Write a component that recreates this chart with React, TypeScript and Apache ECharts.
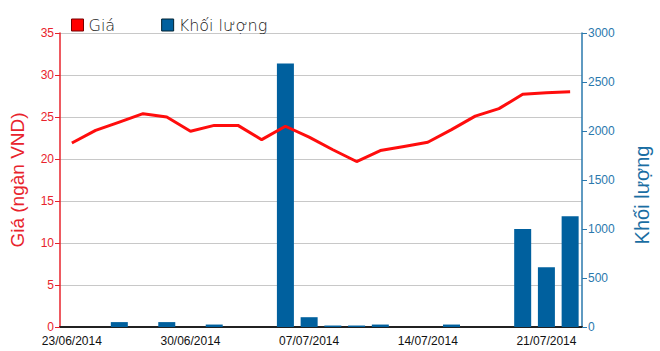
import React, { useEffect, useRef } from "react";
import * as echarts from "echarts";

const categories = [
  "23/06/2014", "24/06/2014", "25/06/2014", "26/06/2014", "27/06/2014",
  "30/06/2014", "01/07/2014", "02/07/2014", "03/07/2014", "04/07/2014",
  "07/07/2014", "08/07/2014", "09/07/2014", "10/07/2014", "11/07/2014",
  "14/07/2014", "15/07/2014", "16/07/2014", "17/07/2014", "18/07/2014",
  "21/07/2014", "22/07/2014",
];
const priceValues = [
  21.9, 23.4, 24.4, 25.4, 25.0,
  23.3, 24.0, 24.0, 22.3, 23.9,
  22.6, 21.1, 19.7, 21.0, 21.5,
  22.0, 23.5, 25.1, 26.0, 27.7,
  27.9, 28.0,
];
const volumeValues = [
  0, 0, 50, 0, 50,
  0, 25, 0, 0, 2690,
  100, 15, 15, 25, 0,
  0, 25, 0, 0, 1000,
  610, 1130,
];
const priceTicks = [0, 35, 5];
const volumeTicks = [0, 3000, 500];

export default function App() {
  const ref = useRef<HTMLDivElement>(null);
  useEffect(() => {
    const chart = echarts.init(ref.current!, null, { renderer: "svg" });
    const font = "Arial, 'Liberation Sans', sans-serif";
    chart.setOption({
      animation: false,
      textStyle: { fontFamily: font },
      legend: {
        left: 66,
        top: 12,
        itemWidth: 12,
        itemHeight: 12,
        itemGap: 46,
        icon: "rect",
        textStyle: { fontSize: 16, color: "#222", fontFamily: "'DejaVu Sans', sans-serif", fontWeight: 300 },
        data: [
          { name: "Giá", itemStyle: { color: "#ff0000", borderColor: "#700", borderWidth: 1 } },
          { name: "Khối lượng", itemStyle: { color: "#00609e", borderColor: "#023", borderWidth: 1 } },
        ],
      },
      grid: { left: 58, right: 73, top: 33, bottom: 24, containLabel: false },
      xAxis: [
        {
          type: "category",
          data: categories,
          boundaryGap: true,
          axisLine: { lineStyle: { color: "#555", width: 2 } },
          axisTick: { alignWithLabel: true, interval: 4, length: 6, lineStyle: { color: "#333" } },
          axisLabel: { interval: 4, color: "#111", fontSize: 12, margin: 8 },
          splitLine: { show: false },
        },
        {
          type: "category",
          data: categories,
          position: "top",
          axisLine: { lineStyle: { color: "#111", width: 1.5 } },
          axisTick: { show: false },
          axisLabel: { show: false },
        },
      ],
      yAxis: [
        {
          type: "value",
          min: priceTicks[0],
          max: priceTicks[1],
          interval: priceTicks[2],
          name: "Giá (ngàn VND)",
          nameLocation: "middle",
          nameGap: 33,
          nameTextStyle: { color: "#e8232c", fontSize: 19 },
          axisLine: { show: true, lineStyle: { color: "#e8232c", width: 1.5 } },
          axisTick: { show: true, length: 5, lineStyle: { color: "#e8232c" } },
          axisLabel: { color: "#e8232c", fontSize: 12, margin: 6, verticalAlign: "middle" },
          splitLine: { show: true, lineStyle: { color: "#c8c8c8", width: 1 } },
        },
        {
          type: "value",
          min: volumeTicks[0],
          max: volumeTicks[1],
          interval: volumeTicks[2],
          position: "right",
          name: "Khối lượng",
          nameLocation: "middle",
          nameGap: 50,
          nameTextStyle: { color: "#1a6ea3", fontSize: 20, padding: [0, 0, 0, -30] },
          axisLine: { show: true, lineStyle: { color: "#2a78ad", width: 1.5 } },
          axisTick: { show: true, length: 5, lineStyle: { color: "#2a78ad" } },
          axisLabel: { color: "#2a78ad", fontSize: 12, margin: 6, formatter: (v: number) => String(v) },
          splitLine: { show: false },
        },
      ],
      series: [
        {
          name: "Khối lượng",
          type: "bar",
          xAxisIndex: 0,
          yAxisIndex: 1,
          data: volumeValues,
          barWidth: 17,
          itemStyle: { color: "#00609e" },
          z: 1,
        },
        {
          name: "Giá",
          type: "line",
          xAxisIndex: 0,
          yAxisIndex: 0,
          data: priceValues,
          symbol: "none",
          lineStyle: { color: "#ff0d0d", width: 3 },
          itemStyle: { color: "#ff0000" },
          z: 3,
        },
      ],
    });
    return () => chart.dispose();
  }, []);
  return <div ref={ref} style={{ width: 660, height: 351, position: "absolute", left: 0, top: 0, background: "#fff" }} />;
}
